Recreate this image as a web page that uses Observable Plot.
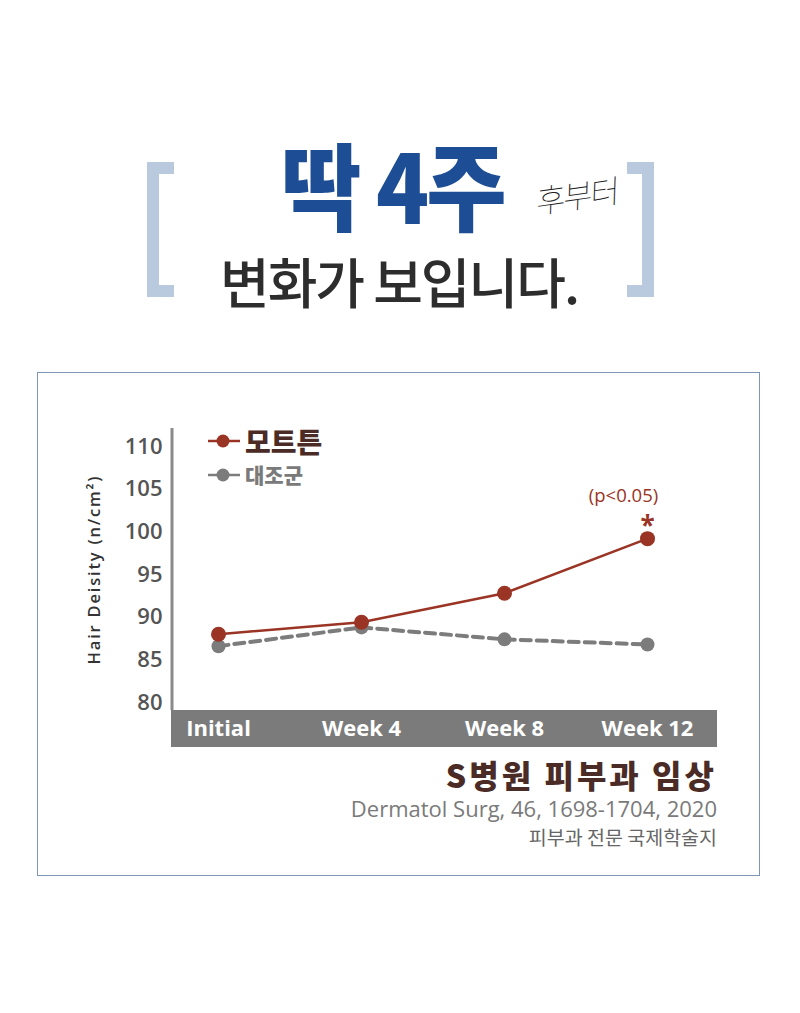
<!DOCTYPE html>
<html>
<head>
<meta charset="utf-8">
<script src="https://cdn.jsdelivr.net/npm/d3@7"></script>
<script src="https://cdn.jsdelivr.net/npm/@observablehq/plot@0.6"></script>
<style>
  html, body { margin: 0; padding: 0; background: #fff; }
  body { width: 800px; height: 1013px; position: relative; overflow: hidden;
         font-family: "Noto Sans CJK KR", "Open Sans", sans-serif; }
  .abs { position: absolute; white-space: nowrap; }
  .bracketL { left: 147px; top: 162px; width: 27px; height: 135px; box-sizing: border-box;
              border: 12px solid #b9c9de; border-right: none; }
  .bracketR { left: 627px; top: 162px; width: 27px; height: 135px; box-sizing: border-box;
              border: 12px solid #b9c9de; border-left: none; }
  #title1 { left: 281px; top: 121px; font-size: 95px; font-weight: 900; color: #1d4e95;
            letter-spacing: -3px; transform-origin: left top; transform: scaleX(0.92); line-height: 1.3; }
  #hand { left: 536px; top: 178px; font-size: 32px; font-weight: 100; color: #222;
          transform: rotate(-8deg) skewX(-10deg); line-height: 1; letter-spacing: -2px; }
  #title2 { left: 220px; top: 246px; font-size: 54px; font-weight: 500; color: #2d2d2d;
            letter-spacing: -2px; line-height: 1.3; }
  #box { left: 37px; top: 372px; width: 723px; height: 504px; box-sizing: border-box;
         border: 1.5px solid #7f95b5; }
  #chart { left: 0; top: 400px; }
  .leg { left: 208px; display: flex; align-items: center; line-height: 1; }
  .leg span { margin-left: 5px; font-weight: 900; line-height: 1; }
  #src1 { right: 83px; top: 758px; font-size: 32px; font-weight: 900; color: #4a2b25; letter-spacing: 3px; line-height: 1; }
  #src2 { right: 83px; top: 796px; font-family: "Open Sans", sans-serif; font-size: 22px; color: #7a7a7a; line-height: 1.1; }
  #src3 { right: 83px; top: 826px; font-size: 19.5px; color: #666; line-height: 1.1; }
</style>
</head>
<body>
<div class="abs bracketL"></div>
<div class="abs bracketR"></div>
<div class="abs" id="title1">딱 4주</div>
<div class="abs" id="hand">후부터</div>
<div class="abs" id="title2">변화가 보입니다.</div>
<div class="abs" id="box"></div>
<div class="abs" id="chart"></div>
<div class="abs leg" id="leg1" style="top:427px"></div>
<div class="abs leg" id="leg2" style="top:464px"></div>
<div class="abs" id="src1">S병원 피부과 임상</div>
<div class="abs" id="src2">Dermatol Surg, 46, 1698-1704, 2020</div>
<div class="abs" id="src3">피부과 전문 국제학술지</div>
<script>
// ---- data ----
const weeks = ["Initial", "Week 4", "Week 8", "Week 12"];
const mottunValues = [88.0, 89.4, 92.8, 99.2];
const controlValues = [86.6, 88.8, 87.4, 86.8];
const yTicks = [80, 85, 90, 95, 100, 105, 110];
const seriesNames = ["모트튼", "대조군"];
const yLabel = "Hair Deisity (n/cm²)";
const pText = "(p<0.05)";
const sigWeek = "Week 12";

const colors = {"모트튼": "#9a3424", "대조군": "#7c7c7c"};

const mottun = weeks.map((w, i) => ({week: w, value: mottunValues[i], series: seriesNames[0]}));
const control = weeks.map((w, i) => ({week: w, value: controlValues[i], series: seriesNames[1]}));
const sig = mottun.filter(d => d.week === sigWeek);

// decoration: y axis line + grey category band
function axisDecor(index, scales, values, dim) {
  const g = d3.create("svg:g");
  const x0 = dim.marginLeft, x1 = dim.width - dim.marginRight;
  const yb = dim.height - dim.marginBottom;
  g.append("rect").attr("x", x0).attr("y", yb).attr("width", x1 - x0).attr("height", 37).attr("fill", "#7b7b7b");
  g.append("rect").attr("x", x0 - 0.5).attr("y", dim.marginTop).attr("width", 3).attr("height", yb - dim.marginTop).attr("fill", "#8a8a8a");
  return g.node();
}

const chart = Plot.plot({
  width: 800,
  height: 360,
  marginTop: 28,
  marginBottom: 50,
  marginLeft: 171,
  marginRight: 83,
  insetLeft: 46,
  insetRight: 69,
  insetTop: 18,
  insetBottom: 8,
  style: {fontFamily: "'Open Sans', 'Noto Sans CJK KR', sans-serif", background: "transparent"},
  x: {type: "point", domain: weeks, padding: 0},
  y: {domain: [80, 110]},
  marks: [
    axisDecor,
    Plot.axisY({ticks: yTicks, tickSize: 0, tickPadding: 9, fontSize: 22, fontWeight: 600, color: "#555", label: null}),
    Plot.axisX({tickSize: 0, tickPadding: 10, fontSize: 22, fontWeight: 700, color: "white", label: null}),
    Plot.text([yLabel], {frameAnchor: "left", textAnchor: "middle", dx: -77, dy: 0, rotate: -90, fontSize: 16.5, fontWeight: 600, fill: "#333", className: "ylab"}),
    Plot.line(control, {x: "week", y: "value", stroke: colors["대조군"], strokeWidth: 4, strokeDasharray: "10,6"}),
    Plot.dot(control, {x: "week", y: "value", r: 7, fill: colors["대조군"]}),
    Plot.line(mottun, {x: "week", y: "value", stroke: colors["모트튼"], strokeWidth: 2.5}),
    Plot.dot(mottun, {x: "week", y: "value", r: 7.5, fill: colors["모트튼"]}),
    Plot.text(sig, {x: "week", y: "value", text: () => pText, dx: -24, dy: -43, fontSize: 18.5, fill: "#9a3424"}),
    Plot.text(sig, {x: "week", y: "value", text: () => "*", dy: -12, fontSize: 26, fontWeight: 700, fill: "#9a3424"})
  ]
});
d3.select(chart).selectAll(".ylab text").style("letter-spacing", "1.8px");
document.getElementById("chart").appendChild(chart);

// legend
function legendRow(el, name, size, color, textColor) {
  const s = d3.select(el);
  const svg = s.append("svg").attr("width", 32).attr("height", 16);
  svg.append("line").attr("x1", 0).attr("x2", 32).attr("y1", 8).attr("y2", 8).attr("stroke", color).attr("stroke-width", 2.5);
  svg.append("circle").attr("cx", 15).attr("cy", 8).attr("r", 6.5).attr("fill", color);
  s.append("span").style("font-size", size + "px").style("color", textColor).text(name);
}
legendRow(document.getElementById("leg1"), seriesNames[0], 28, colors["모트튼"], "#4a2b25");
legendRow(document.getElementById("leg2"), seriesNames[1], 21, colors["대조군"], "#7a7a7a");
</script>
</body>
</html>
